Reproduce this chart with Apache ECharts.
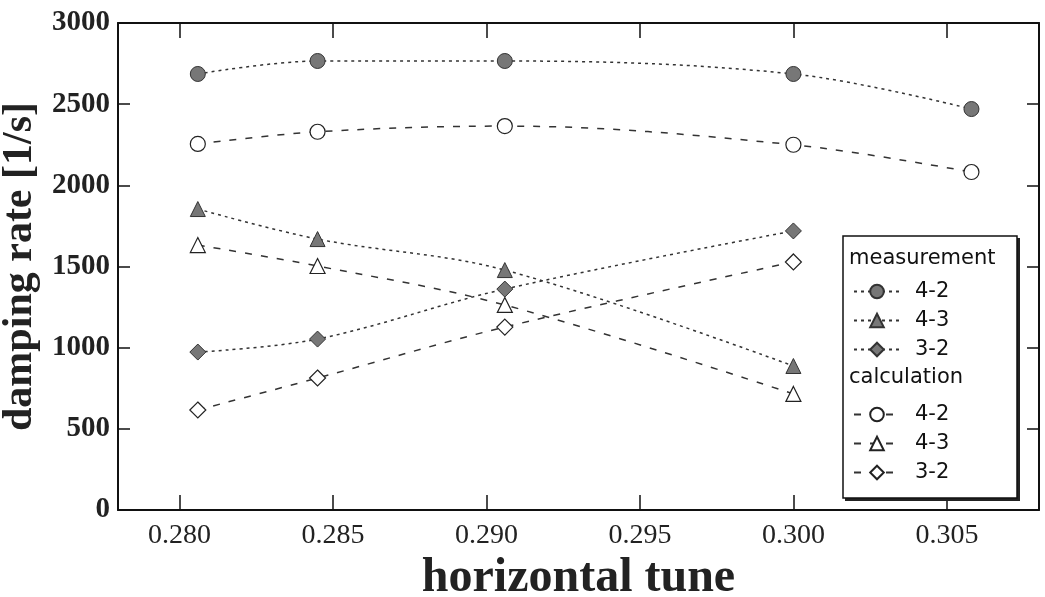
<!DOCTYPE html>
<html>
<head>
<meta charset="utf-8">
<script src="https://cdn.jsdelivr.net/npm/echarts@6/dist/echarts.min.js"></script>
<style>
  html, body { margin: 0; padding: 0; background: #fff; }
  #chart { width: 1045px; height: 597px; }
</style>
</head>
<body>
<div id="chart"></div>
<script>
// tune values (x) and damping rates (y)
var tune = [0.2806, 0.2845, 0.2906, 0.3000, 0.3058];
var meas42 = [2686, 2766, 2766, 2686, 2470];
var meas43 = [1854, 1669, 1478, 887];
var meas32 = [973, 1053, 1361, 1719];
var calc42 = [2255, 2330, 2365, 2250, 2082];
var calc43 = [1632, 1503, 1263, 715];
var calc32 = [616, 813, 1127, 1528];
var xTicks = [0.280, 0.285, 0.290, 0.295, 0.300, 0.305];

function pairs(ys) {
    return ys.map(function (y, i) { return [tune[i], y]; });
}

var chartDom = document.getElementById('chart');
var myChart = echarts.init(chartDom);

var serif = '"Liberation Serif", "Times New Roman", serif';
var sans = '"DejaVu Sans", sans-serif';

function measSeries(name, ys, symbol, size) {
    return {
        name: name,
        type: 'line',
        data: pairs(ys),
        smooth: 0.35,
        symbol: symbol,
        symbolSize: size,
        lineStyle: { color: '#333', width: 1.5, type: [3, 4] },
        itemStyle: { color: '#777', borderColor: '#333', borderWidth: 1 }
    };
}
function calcSeries(name, ys, symbol, size) {
    return {
        name: name,
        type: 'line',
        data: pairs(ys),
        smooth: 0.35,
        symbol: symbol,
        symbolSize: size,
        lineStyle: { color: '#333', width: 1.5, type: [7, 9] },
        itemStyle: { color: '#fff', borderColor: '#222', borderWidth: 1.2 }
    };
}

var legendText = {
    fontFamily: sans,
    fontSize: 21,
    color: '#111',
    padding: [0, 0, 0, 10]
};

var option = {
    animation: false,
    backgroundColor: '#fff',
    grid: { left: 118, right: 6, top: 23, bottom: 87, outerBoundsMode: 'none', containLabel: false },
    xAxis: [{
        type: 'value',
        min: 0.278,
        max: 0.308,
        name: 'horizontal tune',
        nameLocation: 'middle',
        nameGap: 35,
        nameTextStyle: { fontFamily: serif, fontWeight: 'bold', fontSize: 48, color: '#222' },
        axisLine: { show: true, onZero: false, lineStyle: { color: '#111', width: 2 } },
        axisTick: { show: true, inside: true, length: 15, customValues: xTicks, lineStyle: { color: '#111', width: 1.5 } },
        axisLabel: {
            customValues: xTicks, margin: 12,
            fontFamily: serif, fontSize: 28, color: '#222',
            formatter: function (v) { return v.toFixed(3); }
        },
        splitLine: { show: false }
    }, {
        type: 'value',
        position: 'top',
        min: 0.278,
        max: 0.308,
        axisLine: { show: true, onZero: false, lineStyle: { color: '#111', width: 2 } },
        axisTick: { show: true, inside: true, length: 15, customValues: xTicks, lineStyle: { color: '#111', width: 1.5 } },
        axisLabel: { show: false },
        splitLine: { show: false }
    }],
    yAxis: [{
        type: 'value',
        min: 0,
        max: 3000,
        interval: 500,
        name: 'damping rate [1/s]',
        nameLocation: 'middle',
        nameGap: 74,
        nameTextStyle: { fontFamily: serif, fontWeight: 'bold', fontSize: 42, color: '#222' },
        axisLine: { show: true, onZero: false, lineStyle: { color: '#111', width: 2 } },
        axisTick: { show: true, inside: true, length: 12, lineStyle: { color: '#111', width: 1.5 } },
        axisLabel: {
            margin: 8, fontFamily: serif, fontWeight: 'bold', fontSize: 29, color: '#222',
            formatter: function (v) { return String(v); }
        },
        splitLine: { show: false }
    }, {
        type: 'value',
        position: 'right',
        min: 0,
        max: 3000,
        interval: 500,
        axisLine: { show: true, onZero: false, lineStyle: { color: '#111', width: 2 } },
        axisTick: { show: true, inside: true, length: 12, lineStyle: { color: '#111', width: 1.5 } },
        axisLabel: { show: false },
        splitLine: { show: false }
    }],
    legend: [{
        orient: 'vertical',
        left: 848,
        top: 276,
        itemWidth: 46,
        itemHeight: 17,
        itemGap: 8,
        data: ['meas 4-2', 'meas 4-3', 'meas 3-2'],
        formatter: function (n) { return n.split(' ')[1]; },
        textStyle: legendText
    }, {
        orient: 'vertical',
        left: 848,
        top: 399,
        itemWidth: 46,
        itemHeight: 17,
        itemGap: 8,
        data: ['calc 4-2', 'calc 4-3', 'calc 3-2'],
        formatter: function (n) { return n.split(' ')[1]; },
        textStyle: legendText
    }],
    graphic: [{
        type: 'rect',
        z: 1,
        shape: { x: 845, y: 238, width: 175, height: 263 },
        style: { fill: '#222' }
    }, {
        type: 'rect',
        z: 2,
        shape: { x: 843, y: 236, width: 174, height: 262 },
        style: { fill: '#fff', stroke: '#111', lineWidth: 1.5 }
    }, {
        type: 'text',
        z: 5,
        left: 849,
        top: 248,
        style: { text: 'measurement', font: '21px "DejaVu Sans", sans-serif', fill: '#111' }
    }, {
        type: 'text',
        z: 5,
        left: 849,
        top: 367,
        style: { text: 'calculation', font: '21px "DejaVu Sans", sans-serif', fill: '#111' }
    }],
    series: [
        measSeries('meas 4-2', meas42, 'circle', 15),
        measSeries('meas 4-3', meas43, 'triangle', 15),
        measSeries('meas 3-2', meas32, 'diamond', 16),
        calcSeries('calc 4-2', calc42, 'circle', 15),
        calcSeries('calc 4-3', calc43, 'triangle', 15),
        calcSeries('calc 3-2', calc32, 'diamond', 16)
    ]
};

myChart.setOption(option);
</script>
</body>
</html>
